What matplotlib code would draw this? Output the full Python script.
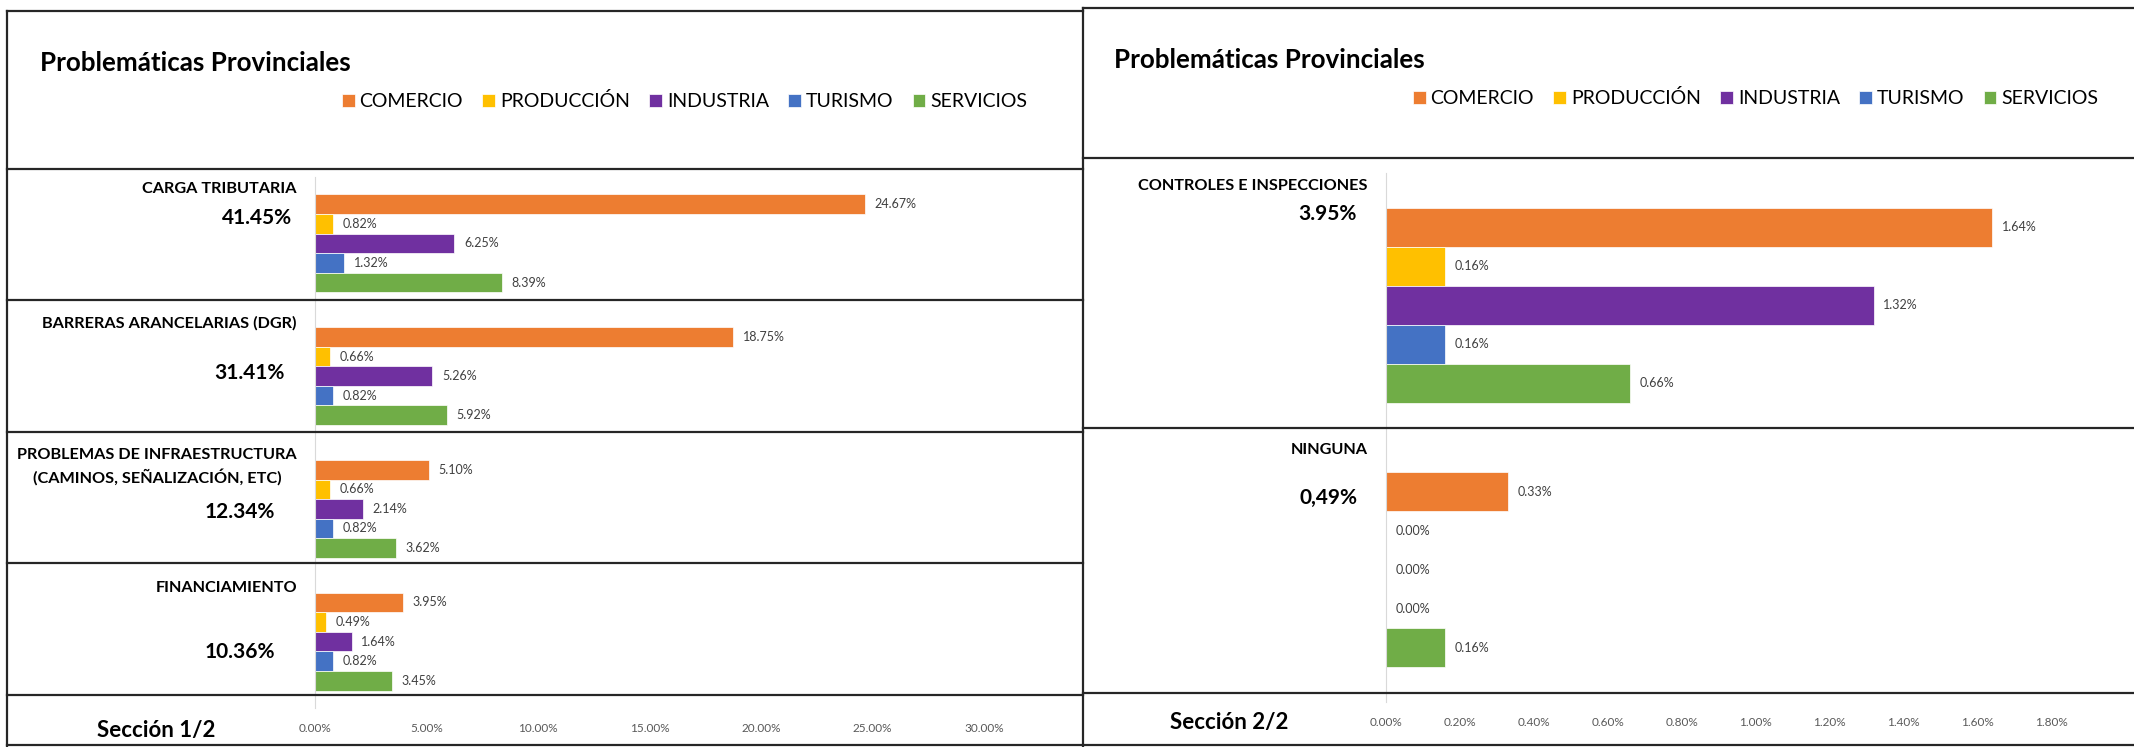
import matplotlib
matplotlib.use('Agg')
import matplotlib.pyplot as plt
from matplotlib.lines import Line2D
import numpy as np

plt.rcParams['font.family'] = ['Lato', 'DejaVu Sans']

W, H = 2134, 747

series = ['COMERCIO', 'PRODUCCIÓN', 'INDUSTRIA', 'TURISMO', 'SERVICIOS']
colors = ['#ED7D31', '#FFC000', '#7030A0', '#4472C4', '#70AD47']

# Sección 1/2
cats_1 = ['CARGA TRIBUTARIA', 'BARRERAS ARANCELARIAS (DGR)',
          'PROBLEMAS DE INFRAESTRUCTURA\n(CAMINOS, SEÑALIZACIÓN, ETC)', 'FINANCIAMIENTO']
totals_1 = ['41.45%', '31.41%', '12.34%', '10.36%']
comercio_1 = [24.67, 18.75, 5.10, 3.95]
produccion_1 = [0.82, 0.66, 0.66, 0.49]
industria_1 = [6.25, 5.26, 2.14, 1.64]
turismo_1 = [1.32, 0.82, 0.82, 0.82]
servicios_1 = [8.39, 5.92, 3.62, 3.45]
ticks_1 = [0, 5, 10, 15, 20, 25, 30]

# Sección 2/2
cats_2 = ['CONTROLES E INSPECCIONES', 'NINGUNA']
totals_2 = ['3.95%', '0,49%']
comercio_2 = [1.64, 0.33]
produccion_2 = [0.16, 0.00]
industria_2 = [1.32, 0.00]
turismo_2 = [0.16, 0.00]
servicios_2 = [0.66, 0.16]
ticks_2 = [0.0, 0.2, 0.4, 0.6, 0.8, 1.0, 1.2, 1.4, 1.6, 1.8]


# pixel -> figure fraction
def fx(x):
    return x / W


def fy(y):
    return 1 - y / H


def draw_panel(ax, values, ticks):
    n = len(values[0])
    y = np.arange(n)
    h = 1 / (5 + 1.78)
    for k, (vals, col, name) in enumerate(zip(values, colors, series)):
        bars = ax.barh(y + (k - 2) * h, vals, height=h, color=col, label=name,
                       edgecolor='white', linewidth=0.5)
        ax.bar_label(bars, labels=[f'{v:.2f}%' for v in vals], padding=7,
                     fontsize=9, color='#404040')
    ax.set_ylim(n - 0.5, -0.5)
    ax.set_xlim(ticks[0], ticks[-1])
    ax.set_xticks(ticks)
    ax.set_xticklabels([f'{t:.2f}%' for t in ticks], fontsize=8.5, color='#595959')
    ax.tick_params(axis='x', length=0, pad=11)
    ax.set_yticks([])
    for s in ['top', 'right', 'bottom']:
        ax.spines[s].set_visible(False)
    ax.spines['left'].set_color('#D9D9D9')
    ax.spines['left'].set_linewidth(0.8)


def hline(y, x0, x1):
    fig.add_artist(Line2D([fx(x0), fx(x1)], [fy(y), fy(y)], transform=fig.transFigure,
                          color='#262626', lw=1.6))


def vline(x, y0, y1):
    fig.add_artist(Line2D([fx(x), fx(x)], [fy(y0), fy(y1)], transform=fig.transFigure,
                          color='#262626', lw=1.6))


fig = plt.figure(figsize=(W / 100, H / 100), dpi=100)

ax1 = fig.add_axes([fx(315), fy(708), fx(984) - fx(315), (708 - 177) / H])
draw_panel(ax1, [comercio_1, produccion_1, industria_1, turismo_1, servicios_1], ticks_1)

ax2 = fig.add_axes([fx(1386), fy(702), fx(2051) - fx(1386), (702 - 173) / H])
draw_panel(ax2, [comercio_2, produccion_2, industria_2, turismo_2, servicios_2], ticks_2)

# titles
fig.text(fx(40), fy(63), 'Problemáticas Provinciales', fontsize=18.7, fontweight='bold',
         ha='left', va='center')
fig.text(fx(1114), fy(60), 'Problemáticas Provinciales', fontsize=18.7, fontweight='bold',
         ha='left', va='center')

# legends
for ax, x, y in [(ax1, 342, 101), (ax2, 1413, 98)]:
    handles, labels = ax.get_legend_handles_labels()
    fig.legend(handles, labels, loc='center left', bbox_to_anchor=(fx(x), fy(y)),
               ncol=5, frameon=False, fontsize=14, handlelength=0.65, handleheight=0.65,
               handletextpad=0.25, columnspacing=1.0, borderpad=0, borderaxespad=0)

# category labels and totals, left panel
cat_y_1 = [189, 323, 467, 588]
tot_pos_1 = [(292, 218), (285, 373), (275, 512), (275, 652)]
for lab, cy, tot, (tx, ty) in zip(cats_1, cat_y_1, totals_1, tot_pos_1):
    fig.text(fx(297), fy(cy), lab, fontsize=11.7, fontweight='bold', ha='right', va='center',
             multialignment='center', linespacing=1.5)
    fig.text(fx(tx), fy(ty), tot, fontsize=15, fontweight='bold', ha='right', va='center')

cat_y_2 = [186, 450]
tot_pos_2 = [(1357, 214), (1357, 498)]
for lab, cy, tot, (tx, ty) in zip(cats_2, cat_y_2, totals_2, tot_pos_2):
    fig.text(fx(1368), fy(cy), lab, fontsize=11.7, fontweight='bold', ha='right', va='center')
    fig.text(fx(tx), fy(ty), tot, fontsize=15, fontweight='bold', ha='right', va='center')

fig.text(fx(156), fy(730), 'Sección 1/2', fontsize=16, fontweight='bold', ha='center', va='center')
fig.text(fx(1229), fy(722), 'Sección 2/2', fontsize=16, fontweight='bold', ha='center', va='center')

# section borders
hline(11, 7, 1083)
for yy in [169, 300, 432, 563, 695]:
    hline(yy, 7, 1083)
hline(745, 7, 1083)
vline(7, 11, 747)
vline(1083, 8, 747)
hline(8, 1083, 2134)
for yy in [158, 428, 693]:
    hline(yy, 1083, 2134)
hline(745, 1083, 2134)

fig.savefig('out.png', dpi=100)
